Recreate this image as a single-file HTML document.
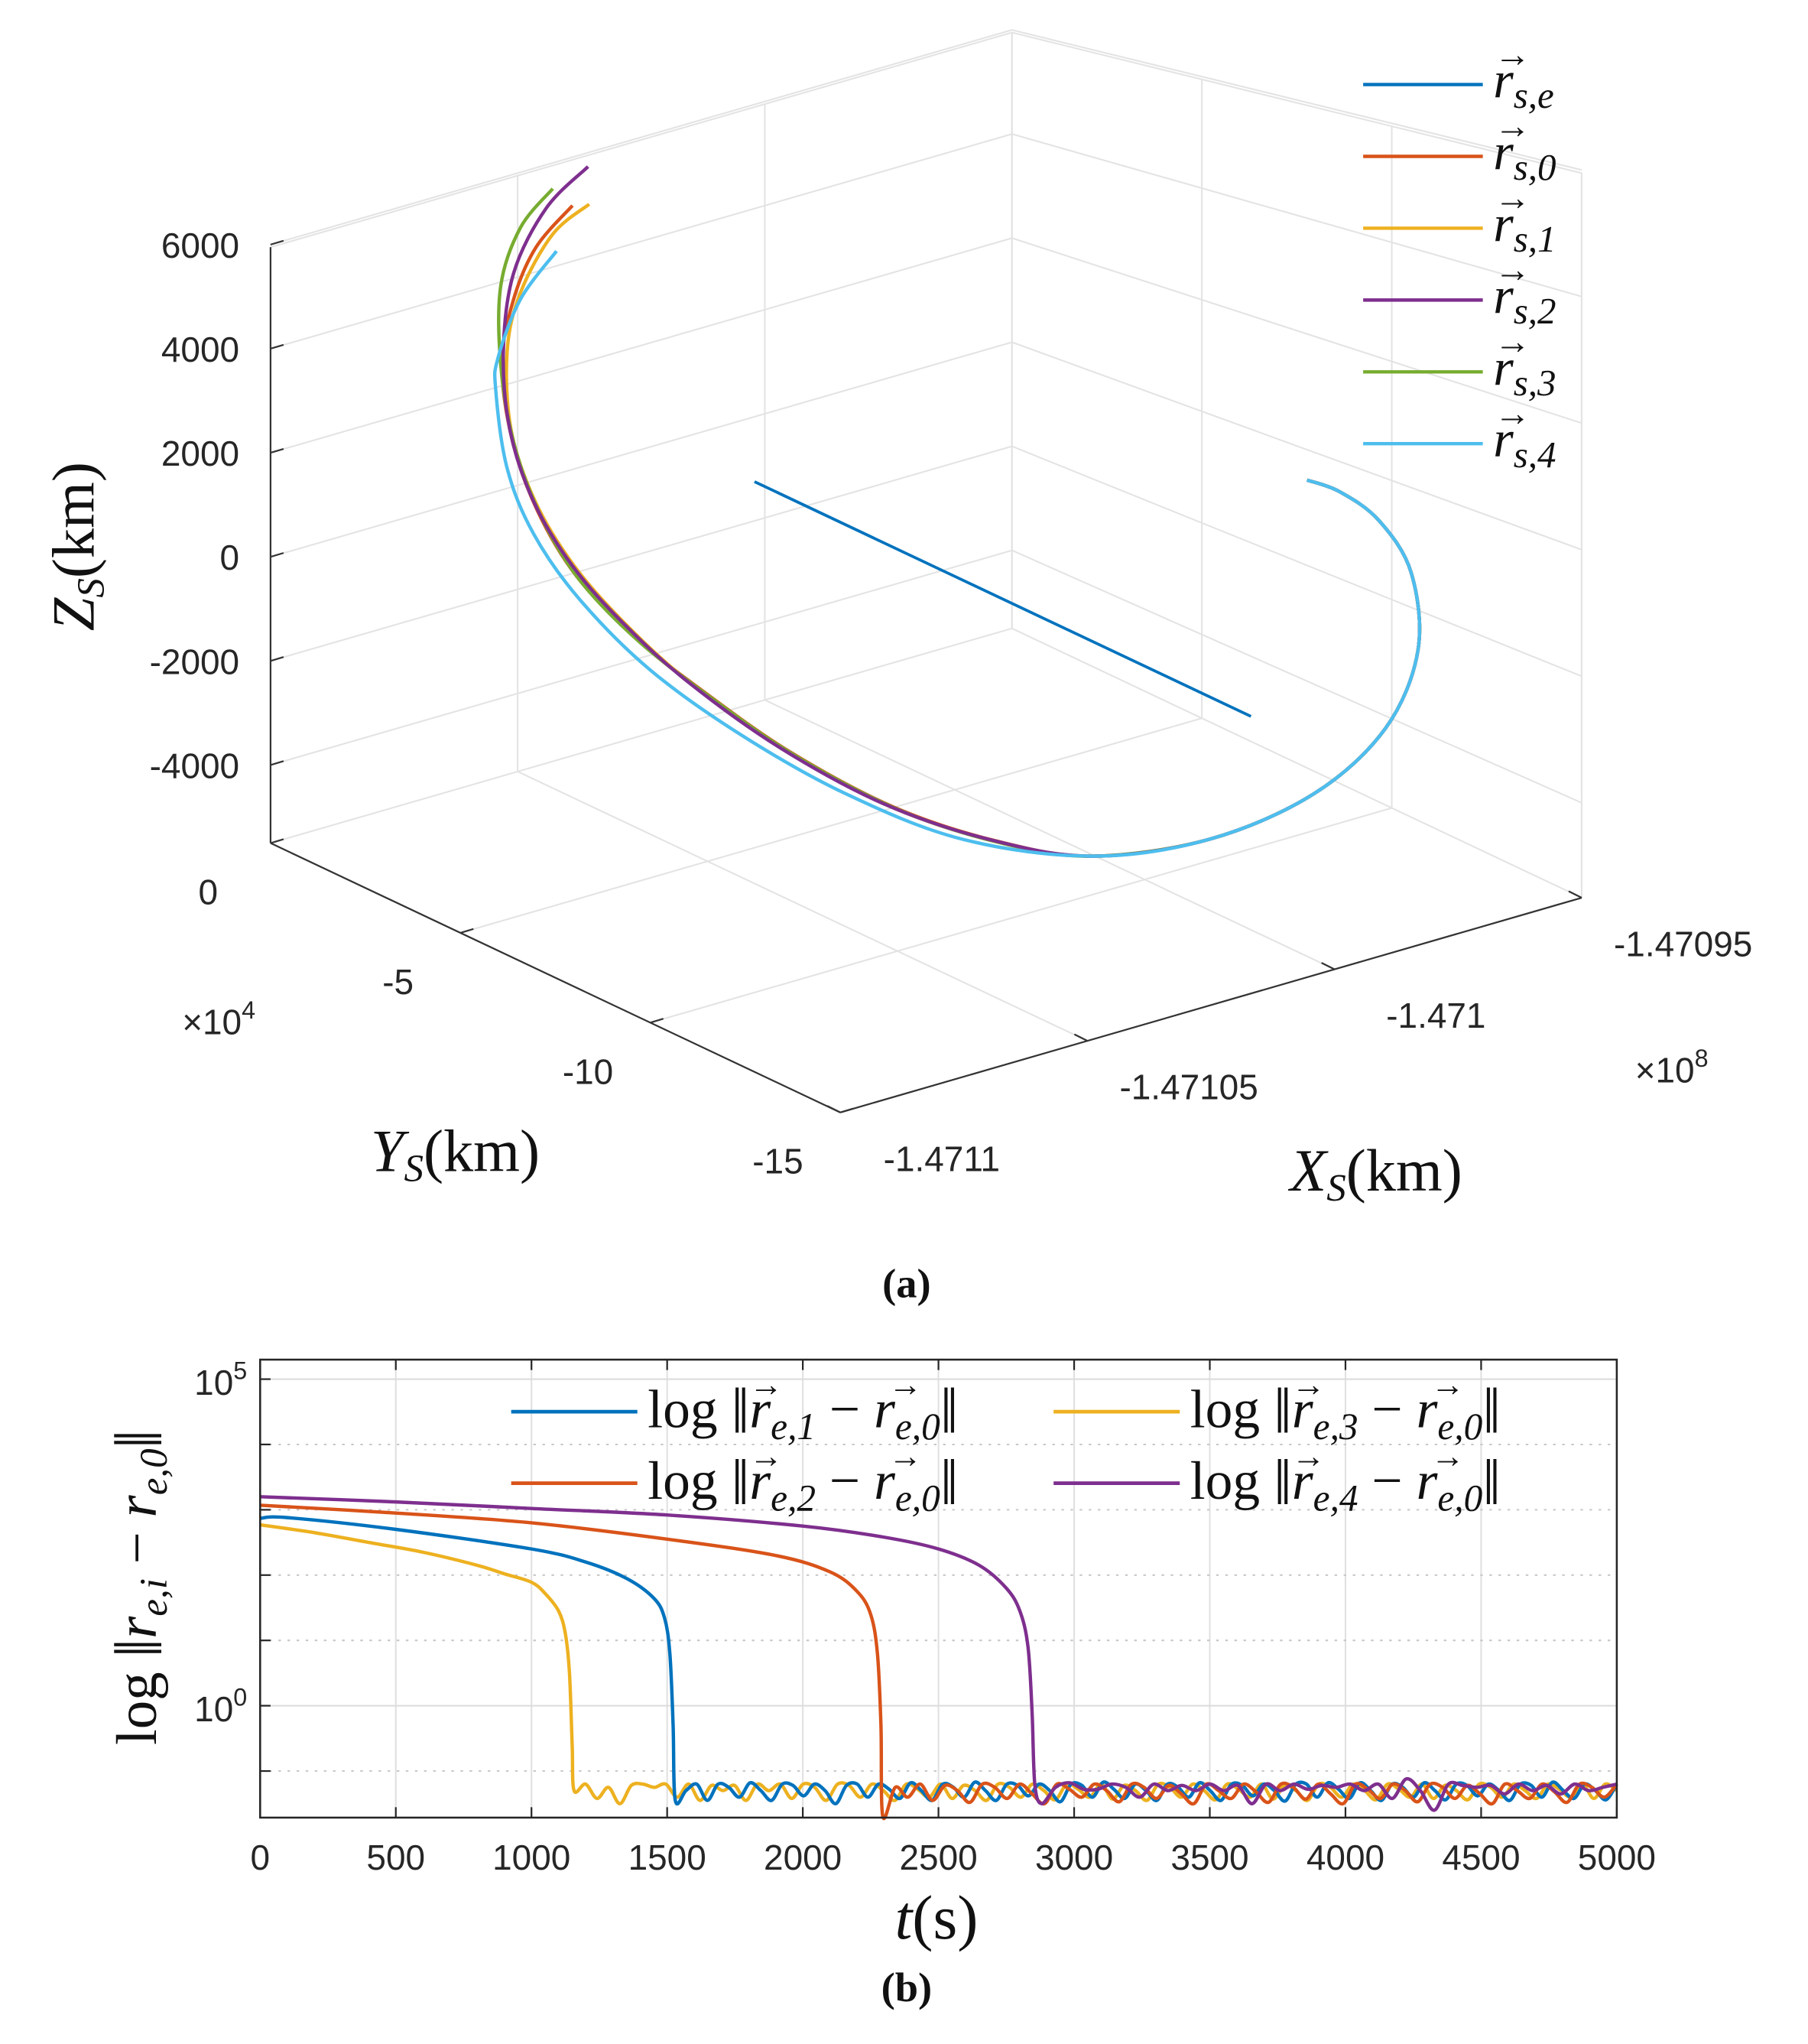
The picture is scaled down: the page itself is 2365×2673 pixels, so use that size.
<!DOCTYPE html>
<html><head><meta charset="utf-8">
<style>
html,body{margin:0;padding:0;background:#fff;}
svg{display:block;}
.tk{font-family:"Liberation Sans",sans-serif;font-size:27px;fill:#262626;}
.ser{font-family:"Liberation Serif",serif;fill:#111;}
</style></head>
<body>
<svg id="fig" width="2365" height="2673" viewBox="0 0 1390 1571" preserveAspectRatio="none" xmlns="http://www.w3.org/2000/svg">
<g id="topg"></g>
<g id="botg"></g>
<text class="ser" x="697" y="997" font-size="32" font-weight="bold" text-anchor="middle">(a)</text>
<text class="ser" x="697" y="1538" font-size="32" font-weight="bold" text-anchor="middle">(b)</text>
</svg>
<script>
// ---------- 3D trajectory data (Y in 1e4 km, Z in km; X fixed plane) ----------
const zTicks=[6000,4000,2000,0,-2000,-4000];
const yTicks=[0,-5,-10,-15];
const xTicks=[-1.4711,-1.47105,-1.471,-1.47095];
const xPlane=-1.47103;
const tailY=[-12.53,-15.62,-18.36,-20.24,-21.10,-20.92,-20.07,-19.04,-18.18];
const tailZ=[-3353,-1960,-143,1758,3555,4993,5700,5895,5823];
const s4Y=[1.58,2.53,3.12,3.18,2.88,2.19,0.99,-0.89,-3.29,-6.03,-9.11];
const s4Z=[3405,2152,825,178,-1218,-2230,-3068,-3793,-4215,-4395,-4208];
const s2Y=[0.75,1.85,2.71,2.98,2.81,2.19,1.16,-0.21,-1.92,-4.32,-7.05,-9.79];
const s2Z=[5315,4138,2590,998,-445,-1605,-2500,-3153,-3688,-4110,-4243,-3973];
const s3Y=[1.68,2.53,3.05,3.05,2.71,2.02,0.99,-0.55,-2.43,-4.66,-7.40,-10.14];
const s3Z=[4570,3528,2223,723,-660,-1798,-2693,-3335,-3763,-4118,-4223,-3928];
const s0Y=[1.16,2.12,2.71,3.02,2.75,2.08,1.05,-0.5,-2.38,-4.6,-7.3,-10.0];
const s0Z=[4425,3293,2090,760,-620,-1760,-2660,-3310,-3740,-4100,-4215,-3935];
const s1Y=[0.72,1.68,2.53,2.88,2.78,2.15,1.12,-0.25,-1.95,-4.35,-7.1,-9.85];
const s1Z=[4603,3695,2278,1033,-430,-1590,-2480,-3140,-3680,-4105,-4240,-3970];
const seX=[-1.47101,-1.47101];
const seY=[-1.03,-14.1];
const seZ=[-675,-675];

// ---------- log error data ----------
const bTicks=[0,500,1000,1500,2000,2500,3000,3500,4000,4500,5000];
const e1T=[0,100,500,1000,1200,1350,1450,1490,1510,1522,1530];
const e1V=[2.87,2.88,2.7,2.4,2.2,1.95,1.65,1.35,0.8,-0.3,-1.45];
const e2T=[0,500,1000,1500,1900,2100,2200,2250,2275,2288,2295];
const e2V=[3.07,2.95,2.8,2.55,2.3,2.05,1.75,1.4,0.8,-0.3,-1.7];
const e3T=[0,200,400,600,800,900,1000,1050,1100,1125,1140,1150,1157];
const e3V=[2.77,2.65,2.5,2.35,2.15,2.02,1.89,1.72,1.45,1.1,0.5,-0.6,-1.3];
const e4T=[0,500,1000,1500,2000,2300,2500,2650,2750,2800,2830,2845,2855,2880];
const e4V=[3.2,3.12,3.02,2.92,2.75,2.58,2.4,2.15,1.8,1.45,0.9,-0.1,-1.2,-1.5];
const n1=[-1.3,-1.2,-1.45,-1.2,-1.25,-1.4,-1.18,-1.3,-1.45,-1.2,-1.22,-1.38,-1.2,-1.3,-1.5,-1.22,-1.2,-1.4,-1.2,-1.28,-1.42,-1.18,-1.3,-1.45,-1.2,-1.25,-1.4,-1.17,-1.3,-1.45,-1.2,-1.22,-1.38,-1.2,-1.3,-1.47,-1.2,-1.22,-1.4,-1.17,-1.28,-1.42,-1.2,-1.3,-1.45,-1.2,-1.25,-1.4,-1.18,-1.3,-1.45,-1.2,-1.22,-1.38,-1.2,-1.3,-1.46,-1.2,-1.2,-1.4,-1.18,-1.28,-1.42,-1.18,-1.3,-1.45,-1.2,-1.25,-1.4,-1.18,-1.3,-1.44,-1.2,-1.22,-1.38,-1.2,-1.3,-1.45,-1.2,-1.22,-1.4,-1.17,-1.3,-1.42,-1.2,-1.3,-1.44,-1.2];
const n2=[-1.25,-1.4,-1.2,-1.45,-1.22,-1.3,-1.48,-1.2,-1.25,-1.42,-1.2,-1.35,-1.5,-1.2,-1.28,-1.4,-1.2,-1.3,-1.47,-1.2,-1.25,-1.42,-1.22,-1.35,-1.5,-1.2,-1.3,-1.42,-1.2,-1.32,-1.48,-1.2,-1.25,-1.43,-1.2,-1.35,-1.5,-1.2,-1.28,-1.42,-1.2,-1.3,-1.47,-1.2,-1.25,-1.42,-1.22,-1.35,-1.5,-1.2,-1.3,-1.42,-1.2,-1.32,-1.48,-1.2,-1.25,-1.4,-1.2];
const n3=[-1.2,-1.42,-1.25,-1.5,-1.22,-1.2,-1.25,-1.2,-1.4,-1.2,-1.45,-1.22,-1.3,-1.22,-1.45,-1.2,-1.3,-1.2,-1.42,-1.2,-1.25,-1.45,-1.2,-1.22,-1.4,-1.2,-1.3,-1.45,-1.2,-1.28,-1.4,-1.2,-1.42,-1.22,-1.3,-1.45,-1.2,-1.25,-1.4,-1.2,-1.3,-1.44,-1.2,-1.28,-1.4,-1.2,-1.43,-1.22,-1.3,-1.45,-1.2,-1.25,-1.4,-1.2,-1.3,-1.44,-1.2,-1.28,-1.4,-1.2,-1.43,-1.22,-1.3,-1.45,-1.2,-1.25,-1.4,-1.2,-1.3,-1.44,-1.2,-1.28,-1.4,-1.2,-1.42,-1.22,-1.3,-1.44,-1.2,-1.25,-1.4,-1.2,-1.3,-1.42,-1.2,-1.28,-1.4,-1.2,-1.42,-1.2,-1.3];
const n4=[-1.25,-1.18,-1.28,-1.28,-1.2,-1.25,-1.4,-1.2,-1.3,-1.22,-1.3,-1.2,-1.3,-1.22,-1.5,-1.2,-1.3,-1.2,-1.28,-1.22,-1.25,-1.2,-1.3,-1.2,-1.42,-1.12,-1.3,-1.6,-1.2,-1.22,-1.25,-1.22,-1.35,-1.2,-1.3,-1.22,-1.35,-1.2,-1.3,-1.25,-1.2];

const NS="http://www.w3.org/2000/svg";
function mk(parent,tag,attrs){const e=document.createElementNS(NS,tag);for(const k in attrs)e.setAttribute(k,attrs[k]);parent.appendChild(e);return e;}
const topG=document.getElementById('topg'),botG=document.getElementById('botg');
function smooth(pts){let d='M'+pts[0][0]+','+pts[0][1];for(let i=0;i<pts.length-1;i++){const p0=pts[Math.max(0,i-1)],p1=pts[i],p2=pts[i+1],p3=pts[Math.min(pts.length-1,i+2)];const k=1/6;d+=' C'+(p1[0]+(p2[0]-p0[0])*k)+','+(p1[1]+(p2[1]-p0[1])*k)+' '+(p2[0]-(p3[0]-p1[0])*k)+','+(p2[1]-(p3[1]-p1[1])*k)+' '+p2[0]+','+p2[1];}return d;}

// ---------- 3D projection ----------
function P(X,Yk,Z){const dx=(X+1.4711)/0.00005;const dy=-Yk/5;const dz=(Z+5500)*0.04;return [208+dx*190+dy*146,648-dx*55+dy*69-dz];}
// box/grid projection with mild perspective (heights grow toward the front)
function Pb(X,Yk,Z){const dx=(X+1.4711)/0.00005;const dy=-Yk/5;const f=1+0.072*dy;const dz=(Z+5500)*0.04*f;return [208+dx*190+dy*146,648-dx*55+dy*69-dz];}
const Xmin=-1.4711,Xmax=-1.47095,Ymin=-15,Zmin=-5500,Zmax=5950;
function seg(g,a,b,st,w,name){const l=mk(g,'line',{x1:a[0],y1:a[1],x2:b[0],y2:b[1],stroke:st,'stroke-width':w});


return l;}
const gc='#e3e3e3';
xTicks.forEach(x=>{seg(topG,Pb(x,0,Zmin),Pb(x,0,Zmax),gc,1.2,'grid-x-wall');seg(topG,Pb(x,0,Zmin),Pb(x,Ymin,Zmin),gc,1.2,'grid-x-floor');});
yTicks.forEach(y=>{seg(topG,Pb(Xmax,y,Zmin),Pb(Xmax,y,Zmax),gc,1.2,'grid-y-wall');seg(topG,Pb(Xmin,y,Zmin),Pb(Xmax,y,Zmin),gc,1.2,'grid-y-floor');});
zTicks.forEach(z=>{seg(topG,Pb(Xmin,0,z),Pb(Xmax,0,z),gc,1.2,'grid-z-wall');seg(topG,Pb(Xmax,0,z),Pb(Xmax,Ymin,z),gc,1.2,'grid-z-wall2');});
seg(topG,Pb(Xmin,0,Zmax),Pb(Xmax,0,Zmax),gc,1.2,'box-top');seg(topG,Pb(Xmax,0,Zmax),Pb(Xmax,Ymin,Zmax),gc,1.2,'box-top');
seg(topG,Pb(Xmax,Ymin,Zmin),Pb(Xmax,Ymin,Zmax),gc,1.2,'box-edge');
seg(topG,Pb(Xmin,0,Zmin),Pb(Xmin,0,Zmax),'#333',1.3,'z-axis');
seg(topG,Pb(Xmin,0,Zmin),Pb(Xmin,Ymin,Zmin),'#333',1.3,'y-axis');
seg(topG,Pb(Xmin,Ymin,Zmin),Pb(Xmax,Ymin,Zmin),'#333',1.3,'x-axis');
zTicks.forEach(z=>{const p=Pb(Xmin,0,z);seg(topG,p,[p[0]+10,p[1]-3],'#333',1.3,'z-tick');const t=mk(topG,'text',{x:p[0]-24,y:p[1]+10,'text-anchor':'end',class:'tk'});t.textContent=z;

});
yTicks.forEach(y=>{const p=Pb(Xmin,y,Zmin);seg(topG,p,[p[0]+10,p[1]-3],'#333',1.3,'y-tick');const t=mk(topG,'text',{x:p[0]-48,y:p[1]+47,'text-anchor':'middle',class:'tk'});t.textContent=y;

});
xTicks.forEach(x=>{const p=Pb(x,Ymin,Zmin);seg(topG,p,[p[0]-10,p[1]-5],'#333',1.3,'x-tick');const t=mk(topG,'text',{x:p[0]+78,y:p[1]+45,'text-anchor':'middle',class:'tk'});t.textContent=x;

});
[[140,795,'4','y-exponent'],[1257,832,'8','x-exponent']].forEach(a=>{const t=mk(topG,'text',{x:a[0],y:a[1],class:'tk'});t.innerHTML='×10<tspan dy="-12" font-size="19">'+a[2]+'</tspan>';

});
function poly3(Ys,Zs,X,col,name){const pts=Ys.map((y,i)=>P(X,y,Zs[i]));const p=mk(topG,'path',{d:smooth(pts),fill:'none',stroke:col,'stroke-width':2.6,'stroke-linejoin':'round'});

}
poly3(s0Y.concat(tailY),s0Z.concat(tailZ),xPlane,'#D95319','series-rs0');
poly3(s1Y.concat(tailY),s1Z.concat(tailZ),xPlane,'#EDB120','series-rs1');
poly3(s3Y.concat(tailY),s3Z.concat(tailZ),xPlane,'#77AC30','series-rs3');
poly3(s2Y.concat(tailY),s2Z.concat(tailZ),xPlane,'#7E2F8E','series-rs2');
poly3(s4Y.concat(tailY),s4Z.concat(tailZ),xPlane,'#4DBEEE','series-rs4');
{const a=P(seX[0],seY[0],seZ[0]),b=P(seX[1],seY[1],seZ[1]);seg(topG,a,b,'#0072BD',2.2,'series-rse');}
function vec(g,x,y,fs,sub,name){const t=mk(g,'text',{x:x,y:y,class:'ser','font-size':fs,'font-style':'italic'});t.innerHTML='r<tspan dy="'+(fs*0.2)+'" font-size="'+(fs*0.72)+'">'+sub+'</tspan>';const a=mk(g,'text',{x:x+fs*0.02,y:y-fs*0.6,class:'ser','font-size':fs*0.7});a.textContent='→';




return t;}
const legCols=['#0072BD','#D95319','#EDB120','#7E2F8E','#77AC30','#4DBEEE'],legSubs=['s,e','s,0','s,1','s,2','s,3','s,4'];
legCols.forEach((c,i)=>{const y=65+i*55.2;const l=mk(topG,'line',{x1:1048,y1:y,x2:1140,y2:y,stroke:c,'stroke-width':2.6});


vec(topG,1148,y+10,40,legSubs[i],'legend-label-'+i);});
{const t=mk(topG,'text',{x:0,y:0,class:'ser','font-size':46,transform:'translate(72,420) rotate(-90)','text-anchor':'middle'});t.innerHTML='<tspan font-style="italic">Z</tspan><tspan font-style="italic" font-size="30" dy="8">S</tspan><tspan dy="-8">(km)</tspan>';

}
{const t=mk(topG,'text',{x:350,y:900,class:'ser','font-size':46,'text-anchor':'middle'});t.innerHTML='<tspan font-style="italic">Y</tspan><tspan font-style="italic" font-size="30" dy="8">S</tspan><tspan dy="-8">(km)</tspan>';

}
{const t=mk(topG,'text',{x:1058,y:915,class:'ser','font-size':46,'text-anchor':'middle'});t.innerHTML='<tspan font-style="italic">X</tspan><tspan font-style="italic" font-size="30" dy="8">S</tspan><tspan dy="-8">(km)</tspan>';

}

// ---------- bottom chart ----------
const L=200,R=1243,T=1045,B=1397;
const xs=t=>L+(t/5000)*(R-L);
const ys=v=>1311-v*50.2;
bTicks.forEach(t=>{if(t>0&&t<5000)seg(botG,[xs(t),T],[xs(t),B],'#e0e0e0',1.2,'grid-t');});
[5,4,3,2,1,0,-1].forEach(v=>{if(v%5===0){seg(botG,[L,ys(v)],[R,ys(v)],'#dcdcdc',1.2,'grid-major');}else{const l=seg(botG,[L,ys(v)],[R,ys(v)],'#c8c8c8',1.2,'grid-minor');l.setAttribute('stroke-dasharray','2,5');}seg(botG,[L,ys(v)],[L+8,ys(v)],'#262626',1.3,'y-minor-tick');});
function series(T0,V0,noise,col,name){const ts=T0.slice(),vs=V0.slice();let t=T0[T0.length-1];const step=(5000-t)/noise.length;noise.forEach(v=>{t+=step;ts.push(t);vs.push(v);});const pts=ts.map((tt,i)=>[xs(tt),ys(vs[i])]);const p=mk(botG,'path',{d:smooth(pts),fill:'none',stroke:col,'stroke-width':2.6,'stroke-linejoin':'round'});

}
series(e3T,e3V,n3,'#EDB120','series-e3');
series(e1T,e1V,n1,'#0072BD','series-e1');
series(e2T,e2V,n2,'#D95319','series-e2');
series(e4T,e4V,n4,'#7E2F8E','series-e4');
{const r=mk(botG,'rect',{x:L,y:T,width:R-L,height:B-T,fill:'none',stroke:'#262626','stroke-width':1.5});

}
bTicks.forEach(t=>{seg(botG,[xs(t),B],[xs(t),B-8],'#262626',1.3,'t-tick');seg(botG,[xs(t),T],[xs(t),T+8],'#262626',1.3,'t-tick-top');const tx=mk(botG,'text',{x:xs(t),y:B+40,'text-anchor':'middle',class:'tk'});tx.textContent=t;

});
[[5,'5'],[0,'0']].forEach(a=>{const t=mk(botG,'text',{x:L-10,y:ys(a[0])+12,'text-anchor':'end',class:'tk'});t.innerHTML='10<tspan dy="-12" font-size="19">'+a[1]+'</tspan>';

});
function errLabel(x,y,i,name){const t=mk(botG,'text',{x:x,y:y,class:'ser','font-size':42});t.innerHTML='log <tspan font-size="50" dy="4">‖</tspan><tspan dy="-4" font-style="italic">r</tspan><tspan font-style="italic" font-size="29" dy="9">e,'+i+'</tspan><tspan dy="-9"> − </tspan><tspan font-style="italic">r</tspan><tspan font-style="italic" font-size="29" dy="9">e,0</tspan><tspan dy="-5" font-size="50">‖</tspan>';


return t;}
[[393,1085,'#0072BD',1,498],[393,1140,'#D95319',2,498],[810,1085,'#EDB120',3,915],[810,1140,'#7E2F8E',4,915]].forEach(a=>{const l=mk(botG,'line',{x1:a[0],y1:a[1],x2:a[0]+97,y2:a[1],stroke:a[2],'stroke-width':2.8});


errLabel(a[4],a[1]+12,a[3],'legend-label-e'+a[3]);
 [a[4]+78,a[4]+185].forEach(ax=>{const ar=mk(botG,'text',{x:ax,y:a[1]-12,class:'ser','font-size':26});ar.textContent='→';

});});
{const t=mk(botG,'text',{x:0,y:0,class:'ser','font-size':44,transform:'translate(120,1220) rotate(-90)','text-anchor':'middle'});t.innerHTML='log <tspan font-size="52" dy="4">‖</tspan><tspan dy="-4" font-style="italic">r</tspan><tspan font-style="italic" font-size="30" dy="8">e,i</tspan><tspan dy="-8"> − </tspan><tspan font-style="italic">r</tspan><tspan font-style="italic" font-size="30" dy="8">e,0</tspan><tspan dy="-4" font-size="52">‖</tspan>';

}
{const t=mk(botG,'text',{x:720,y:1490,class:'ser','font-size':48,'text-anchor':'middle'});t.innerHTML='<tspan font-style="italic">t</tspan>(s)';

}
</script>
</body></html>
